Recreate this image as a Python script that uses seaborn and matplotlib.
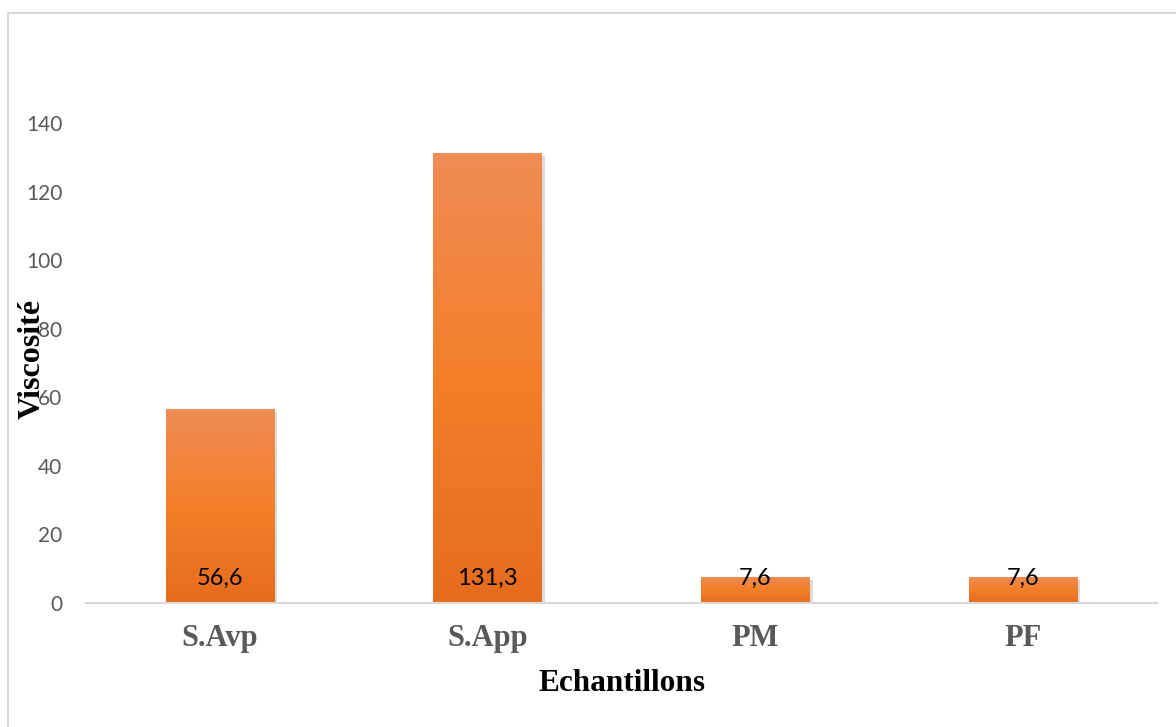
import numpy as np
import pandas as pd
import matplotlib
matplotlib.use("Agg")
import matplotlib.pyplot as plt
import matplotlib.patheffects as pe
from matplotlib.colors import LinearSegmentedColormap
import seaborn as sns

categories = ["S.Avp", "S.App", "PM", "PF"]
values = [56.6, 131.3, 7.6, 7.6]
labels = ["56,6", "131,3", "7,6", "7,6"]
yticks = [0, 20, 40, 60, 80, 100, 120, 140]

sns.set_theme(style="white")
plt.rcParams['font.family'] = ['Lato', 'DejaVu Sans']

fig = plt.figure(figsize=(11.76, 7.27), dpi=100)
ax = fig.add_axes([0.0731, 0.1706, 0.911, 0.7545])

df = pd.DataFrame({"cat": categories, "val": values})
sns.barplot(data=df, x="cat", y="val", color="#F07F2A", width=0.405, ax=ax,
            saturation=1, edgecolor="none")

cmap = LinearSegmentedColormap.from_list("g", ["#E56C1D", "#F47F2A", "#F08C55"])
ax.set_xlim(-0.5, 3.5)
ax.set_ylim(0, 160)
for p in ax.patches:
    p.set_path_effects([pe.SimplePatchShadow(offset=(2, -2), shadow_rgbFace="#9a9a9a", alpha=0.35), pe.Normal()])
    x0, y0 = p.get_x(), p.get_y()
    w, h = p.get_width(), p.get_height()
    grad = np.linspace(0, 1, 256).reshape(-1, 1)
    im = ax.imshow(grad, cmap=cmap, origin="lower", aspect="auto",
                   extent=[x0, x0 + w, y0, y0 + h], zorder=p.get_zorder() + 0.1)
    im.set_clip_path(p)
ax.set_xlim(-0.5, 3.5)
ax.set_ylim(0, 160)

for i, lab in enumerate(labels):
    ax.text(i, 7.3, lab, ha="center", va="center", fontsize=17, color="black", zorder=10)

ax.set_yticks(yticks)
ax.set_yticklabels([str(t) for t in yticks], fontsize=15, color="#595959")
ax.tick_params(axis="y", length=0, pad=17)
ax.tick_params(axis="x", length=0, pad=15)
for lab in ax.get_xticklabels():
    lab.set_fontfamily("Liberation Serif")
    lab.set_fontweight("bold")
    lab.set_fontsize(22)
    lab.set_color("#595959")

for s in ["left", "right", "top"]:
    ax.spines[s].set_visible(False)
ax.spines["bottom"].set_color("#D9D9D9")
ax.spines["bottom"].set_linewidth(1.5)
ax.grid(False)

ax.set_xlabel("Echantillons", fontfamily="Liberation Serif", fontweight="bold",
              fontsize=22.5, color="black", labelpad=12)
ax.set_ylabel("")
fig.text(32 / 1176, 1 - 359 / 727, "Viscosité", rotation=90, ha="center", va="center",
         fontfamily="Liberation Serif", fontweight="bold", fontsize=23, color="black")

# chart frame (left and top edges)
fig.add_artist(plt.Line2D([8 / 1176, 8 / 1176], [0, 1 - 13 / 727], color="#D9D9D9", lw=1.5))
fig.add_artist(plt.Line2D([8 / 1176, 1], [1 - 13 / 727, 1 - 13 / 727], color="#D9D9D9", lw=1.5))

fig.savefig("out.png", dpi=100)
